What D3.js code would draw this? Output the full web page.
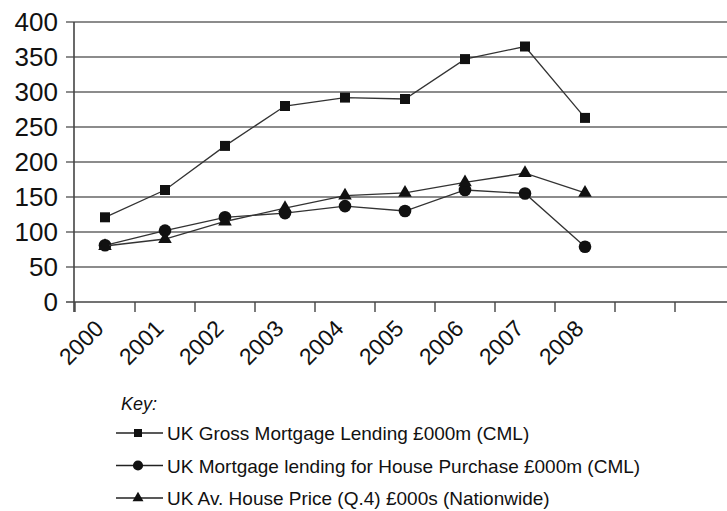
<!DOCTYPE html>
<html>
<head>
<meta charset="utf-8">
<script src="https://cdn.jsdelivr.net/npm/d3@7"></script>
<style>
body{margin:0;background:#fff;}
svg text{font-family:"Liberation Sans",Arial,sans-serif;fill:#111;}
</style>
</head>
<body>
<div id="chart"></div>
<script>
// data
var years = ['2000','2001','2002','2003','2004','2005','2006','2007','2008','2009','2010'];
var grossLending = [121,160,223,280,292,290,347,365,263];
var purchaseLending = [81,102,121,127,137,130,160,155,79];
var housePrice = [80,90,115,134,152,156,171,184,156];
var yTicks = [0,50,100,150,200,250,300,350,400];
var legendLabels = ['UK Gross Mortgage Lending \u00a3000m (CML)',
  'UK Mortgage lending for House Purchase \u00a3000m (CML)',
  'UK Av. House Price (Q.4) \u00a3000s (Nationwide)'];

var series = [
  {v:grossLending, m:d3.symbolSquare, s:100, name:legendLabels[0]},
  {v:purchaseLending, m:d3.symbolCircle, s:125, name:legendLabels[1]},
  {v:housePrice, m:d3.symbolTriangle, s:80, name:legendLabels[2]}
];

var svg = d3.select('#chart').append('svg').attr('width',727).attr('height',511);

var x = d3.scaleBand().domain(years).range([75,735]);
var y = d3.scaleLinear().domain([0,400]).range([302,22]);

// gridlines
svg.append('g').selectAll('line').data(yTicks).enter().append('line')
  .attr('x1',66).attr('x2',735)
  .attr('y1',d=>y(d)).attr('y2',d=>y(d))
  .style('stroke',d=>d==0?'#444':'#666').style('stroke-width',1.7);

// y axis line + labels
svg.append('line').attr('x1',74).attr('x2',74).attr('y1',y(400)).attr('y2',312)
  .style('stroke','#444').style('stroke-width',1.6);
svg.append('g').selectAll('text').data(yTicks).enter().append('text')
  .attr('x',58).attr('y',d=>y(d)+9)
  .attr('text-anchor','end').style('font-size','26px').text(d=>d);

// x ticks at band edges
svg.append('g').selectAll('line').data(years).enter().append('line')
  .attr('x1',d=>x(d)).attr('x2',d=>x(d)).attr('y1',302).attr('y2',312)
  .style('stroke','#444').style('stroke-width',1.4);

// x labels, rotated
svg.append('g').selectAll('text').data(years.slice(0,9)).enter().append('text')
  .attr('transform',d=>'translate('+(x(d)+x.bandwidth()/2)+',330) rotate(-45)')
  .attr('text-anchor','end')
  .style('font-size','23px').text(d=>d);

var line = d3.line().x((d,i)=>x(years[i])+x.bandwidth()/2).y(d=>y(d));

series.forEach(function(s){
  svg.append('path').attr('d',line(s.v)).style('fill','none')
    .style('stroke','#333').style('stroke-width',1.3);
  svg.append('g').selectAll('path').data(s.v).enter().append('path')
    .attr('d',d3.symbol().type(s.m).size(s.s))
    .attr('transform',(d,i)=>'translate('+(x(years[i])+x.bandwidth()/2)+','+y(d)+')')
    .style('fill','#111');
});

// legend
var leg = svg.append('g');
leg.append('text').attr('x',121).attr('y',410).style('font-size','18px')
  .style('font-style','italic').text('Key:');
var row = leg.selectAll('g.row').data(series).enter().append('g')
  .attr('transform',(d,i)=>'translate(0,'+(433+i*32.5)+')');
row.append('line').attr('x1',116).attr('x2',163).attr('y1',0).attr('y2',0)
  .style('stroke','#222').style('stroke-width',1.4);
row.append('path').attr('d',d=>d3.symbol().type(d.m).size(d.s*0.65)())
  .attr('transform','translate(138,0)').style('fill','#111');
row.append('text').attr('x',167).attr('y',7).style('font-size','19px').text(d=>d.name);
</script>
</body>
</html>
